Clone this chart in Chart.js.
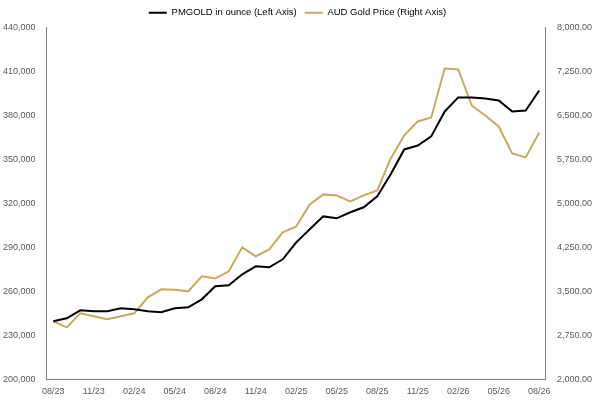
<!DOCTYPE html>
<html>
<head>
<meta charset="utf-8">
<script src="https://cdn.jsdelivr.net/npm/chart.js@4"></script>
<style>
  html, body { margin: 0; padding: 0; background: #fff; }
  #wrap { width: 599px; height: 402px; }
</style>
</head>
<body>
<div id="wrap"><canvas id="chart" width="599" height="402"></canvas></div>
<script>
const months = [
    "08/23","09/23","10/23","11/23","12/23","01/24","02/24","03/24","04/24","05/24","06/24","07/24",
    "08/24","09/24","10/24","11/24","12/24","01/25","02/25","03/25","04/25","05/25","06/25","07/25",
    "08/25","09/25","10/25","11/25","12/25","01/26","02/26","03/26","04/26","05/26","06/26","07/26","08/26"
];
const pmgold = [
    239500, 241600, 247000, 246400, 246400, 248400, 247800, 246400, 245700, 248400, 249100, 254500,
    263400, 264100, 271600, 277000, 276400, 281800, 293400, 302300, 311100, 309800, 313900, 317300,
    324800, 339800, 356800, 359500, 365700, 382700, 392300, 392300, 391600, 390200, 382700, 383400, 397000
];
const audGold = [
    2987, 2885, 3124, 3073, 3022, 3073, 3124, 3397, 3533, 3525, 3499, 3755,
    3720, 3840, 4249, 4095, 4215, 4505, 4607, 4982, 5153, 5136, 5033, 5136,
    5221, 5767, 6159, 6397, 6465, 7301, 7284, 6670, 6500, 6312, 5852, 5784, 6210
];

Chart.defaults.font.family = "'Liberation Sans', Arial, sans-serif";
Chart.defaults.font.size = 9;
Chart.defaults.color = "#595959";

const fmt = v => v.toLocaleString("en-US");
const fmt2 = v => v.toLocaleString("en-US", { minimumFractionDigits: 2, maximumFractionDigits: 2 });

new Chart(document.getElementById("chart"), {
    type: "line",
    data: {
        labels: months,
        datasets: [{
            label: "PMGOLD in ounce (Left Axis)",
            data: pmgold,
            borderColor: "#000000",
            borderWidth: 2,
            pointRadius: 0,
            tension: 0,
            yAxisID: "y"
        }, {
            label: "AUD Gold Price (Right Axis)",
            data: audGold,
            borderColor: "#c9a862",
            borderWidth: 2,
            pointRadius: 0,
            tension: 0,
            yAxisID: "y1"
        }]
    },
    options: {
        responsive: false,
        animation: false,
        layout: { padding: { left: 0, right: 4, top: 0, bottom: 2 } },
        plugins: {
            legend: {
                position: "top",
                labels: {
                    boxWidth: 18,
                    boxHeight: 0,
                    padding: 8,
                    color: "#000",
                    font: { size: 9.5 }
                }
            },
            tooltip: { enabled: false }
        },
        scales: {
            x: {
                offset: true,
                grid: { display: false, offset: false, tickLength: 4 },
                border: { color: "#808080" },
                ticks: {
                    autoSkip: false,
                    maxRotation: 0,
                    callback: function (v, i) { return i % 3 === 0 ? months[i] : ""; }
                }
            },
            y: {
                position: "left",
                min: 200000,
                max: 440000,
                grid: { display: false },
                border: { color: "#808080" },
                ticks: { stepSize: 30000, callback: v => fmt(v) }
            },
            y1: {
                position: "right",
                min: 2000,
                max: 8000,
                grid: { display: false },
                border: { color: "#808080" },
                ticks: { stepSize: 750, callback: v => fmt2(v) }
            }
        }
    }
});
</script>
</body>
</html>
